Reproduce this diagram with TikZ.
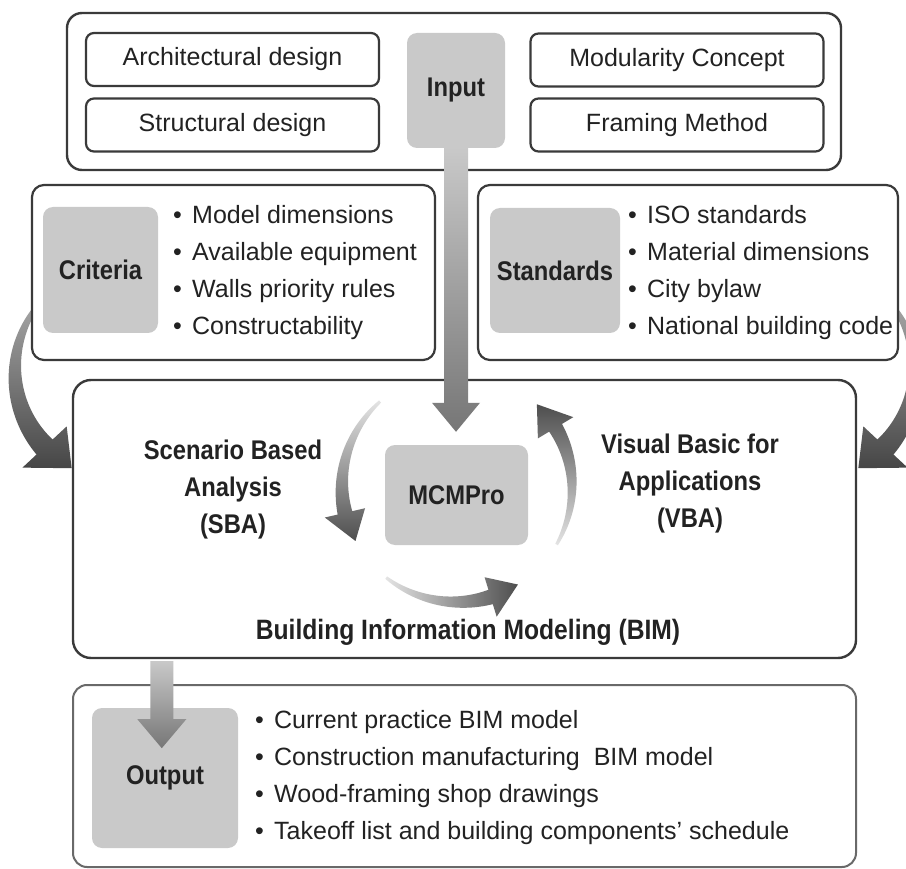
\documentclass[tikz,border=0pt]{standalone}
\usepackage{fontspec}
\setmainfont{Liberation Sans}
\newfontfamily\condfont[FakeStretch=0.88]{Liberation Sans}
\usetikzlibrary{calc}
\definecolor{boxline}{RGB}{58,58,58}
\definecolor{grayfill}{RGB}{201,201,201}
\definecolor{txt}{RGB}{34,34,34}
\definecolor{arrlight}{RGB}{228,228,228}
\definecolor{arrdark}{RGB}{78,78,78}
\definecolor{arrmid}{RGB}{165,165,165}
\definecolor{arrstraight}{RGB}{118,118,118}
\definecolor{outline}{RGB}{105,105,105}
% tapered curved arrow: #1 style, #2 cx, #3 cy, #4 r, #5 tail angle, #6 head-base angle, #7 tip angle, #8 tail width, #9 shaft width at head
\newcommand\taperarrow[9]{%
  \path[#1] plot[domain=#5:#6, samples=40, variable=\ang]
    ({#2+(#4+(#8+(#9-#8)*(\ang-#5)/(#6-#5))/2)*cos(\ang)},{#3+(#4+(#8+(#9-#8)*(\ang-#5)/(#6-#5))/2)*sin(\ang)})
    -- ({#2+(#4+1.375*#9)*cos(#6)},{#3+(#4+1.375*#9)*sin(#6)})
    -- ({#2+#4*cos(#7)},{#3+#4*sin(#7)})
    -- ({#2+(#4-1.375*#9)*cos(#6)},{#3+(#4-1.375*#9)*sin(#6)})
    -- plot[domain=#6:#5, samples=40, variable=\ang]
    ({#2+(#4-(#8+(#9-#8)*(\ang-#5)/(#6-#5))/2)*cos(\ang)},{#3+(#4-(#8+(#9-#8)*(\ang-#5)/(#6-#5))/2)*sin(\ang)})
    -- cycle;}
\newcommand\itm{\makebox[19pt][l]{\textbullet}}
\begin{document}
\begin{tikzpicture}[x=1pt,y=-1pt,
  outerbox/.style={draw=boxline, line width=2.4pt, fill=white, rounded corners=15pt, inner sep=0pt},
  itembox/.style={draw=boxline, line width=2.2pt, fill=white, rounded corners=8pt, inner sep=0pt,
    minimum width=293pt, minimum height=53pt, text=txt, font=\fontsize{25}{30}\selectfont},
  graybox/.style={fill=grayfill, rounded corners=10pt, inner sep=0pt, text=txt,
    font=\condfont\bfseries\fontsize{27}{32}\selectfont},
  boldlabel/.style={align=center, text=txt, font=\condfont\bfseries\fontsize{27}{37}\selectfont},
  listtext/.style={anchor=west, align=left, text=txt, inner sep=0pt, font=\fontsize{25}{37}\selectfont},
  shadedown/.style={top color=arrlight, bottom color=arrdark},
  shadeup/.style={top color=arrdark, bottom color=arrlight},
  shaderight/.style={top color=arrlight, bottom color=arrdark, shading angle=90},
  sideshade/.style={top color=arrmid, bottom color=arrdark!90!black},
  straightshade/.style={top color=arrlight!88!black, bottom color=arrstraight},
]
\clip (0,0) rectangle (906,869);
\fill[white] (0,0) rectangle (906,869);

% side arrows into main box (tails hidden behind the criteria/standards boxes)
\taperarrow{sideshade}{125}{372}{110}{218}{137}{119}{4}{22}
\taperarrow{sideshade}{805}{372}{110}{-38}{43}{61}{4}{22}

% input block
\node[outerbox, minimum width=774pt, minimum height=157pt] (inbox) at (454,91.5) {};
\node[itembox] (arch) at (232.5,59.5) {Architectural design};
\node[itembox] (struct) at (232.5,125) {Structural design};
\node[itembox] (modul) at (677,60) {Modularity Concept};
\node[itembox] (frame) at (677,125) {Framing Method};
\node[graybox, minimum width=98pt, minimum height=115pt] (input) at (456,90.5) {Input};

% criteria / standards
\node[outerbox, rounded corners=12pt, line width=2.2pt, minimum width=403pt, minimum height=175pt] (critbox) at (233.5,272.5) {};
\node[graybox, minimum width=115pt, minimum height=126pt] (crit) at (100.5,270) {Criteria};
\node[listtext] (critlist) at (173,272.5) {\itm Model dimensions\\\itm Available equipment\\\itm Walls priority rules\\\itm Constructability};

\node[outerbox, rounded corners=12pt, line width=2.2pt, minimum width=420pt, minimum height=175pt] (stdbox) at (688,272.5) {};
\node[graybox, minimum width=130pt, minimum height=125pt] (std) at (555,270.5) {Standards};
\node[listtext] (stdlist) at (628,272.5) {\itm ISO standards\\\itm Material dimensions\\\itm City bylaw\\\itm National building code};

% main BIM box
\node[outerbox, rounded corners=18pt, minimum width=783pt, minimum height=278pt] (main) at (464.5,519) {};
\node[graybox, minimum width=143pt, minimum height=100pt] (mcm) at (456.5,495) {MCMPro};
\node[boldlabel] (sba) at (233,490) {Scenario Based\\Analysis\\(SBA)};
\node[boldlabel] (vba) at (690,484) {Visual Basic for\\Applications\\(VBA)};
\node[boldlabel, font=\condfont\bfseries\fontsize{28}{34}\selectfont] (bim) at (468,632) {Building Information Modeling (BIM)};

% cycle arrows around MCMPro
\taperarrow{shadedown}{457}{487}{115}{228}{167}{152}{3}{15}
\taperarrow{shaderight}{457}{487}{115}{128}{73}{58}{3}{15}
\taperarrow{shadeup}{457}{487}{115}{30}{-31}{-46}{3}{15}

% output block
\node[outerbox, draw=outline, line width=2pt, rounded corners=14pt, minimum width=783pt, minimum height=182pt] (outbox) at (464.5,776) {};
\node[graybox, minimum width=146pt, minimum height=140pt] (out) at (165,778) {Output};
\node[listtext] (outlist) at (255,778) {\itm Current practice BIM model\\\itm Construction manufacturing\ \ BIM model\\\itm Wood-framing shop drawings\\\itm Takeoff list and building components' schedule};

% input arrow (Input -> MCMPro)
\coordinate (intip) at ($(mcm.north)+(-0.5,-13)$);
\path[straightshade] ($(input.south)+(-12,0)$) -- ($(input.south)+(12,0)$)
  -- ($(intip)+(12,-29)$) -- ($(intip)+(24,-29)$) -- (intip) -- ($(intip)+(-24,-29)$)
  -- ($(intip)+(-12,-29)$) -- cycle;

% output arrow (main box -> Output)
\coordinate (outtop) at ($(main.south west)+(90,2)$);
\coordinate (outtip) at ($(outtop)+(0,87)$);
\path[straightshade] ($(outtop)+(-11.5,0)$) -- ($(outtop)+(11.5,0)$)
  -- ($(outtip)+(11.5,-29)$) -- ($(outtip)+(24.5,-29)$) -- (outtip) -- ($(outtip)+(-24.5,-29)$)
  -- ($(outtip)+(-11.5,-29)$) -- cycle;
\end{tikzpicture}
\end{document}
